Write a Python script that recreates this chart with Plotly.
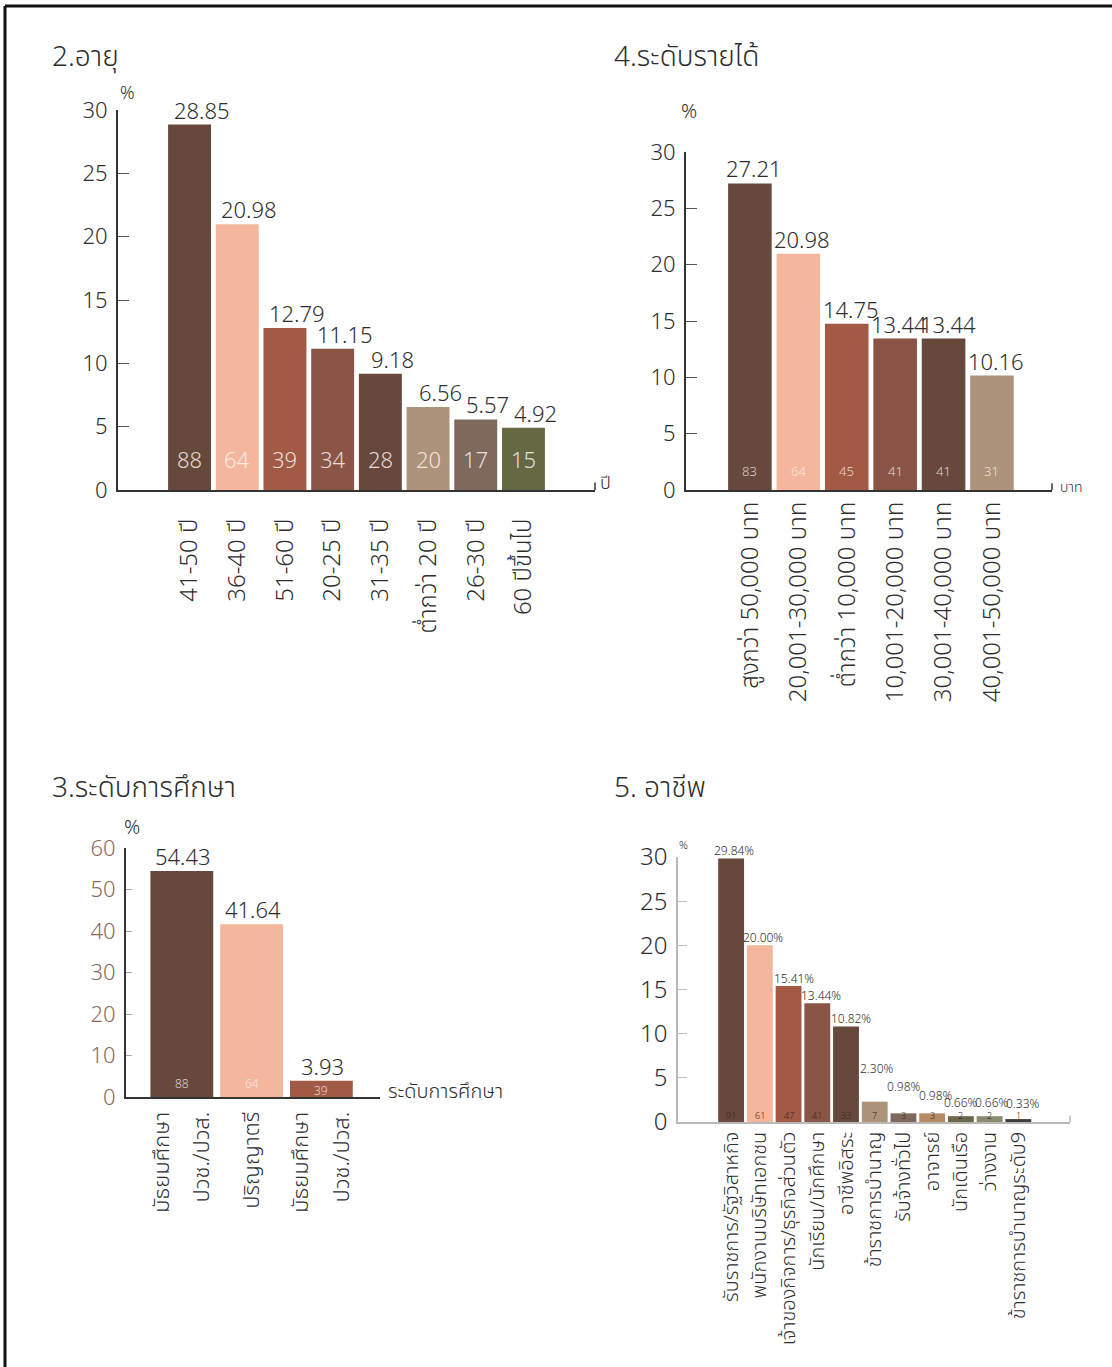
import plotly.graph_objects as go

# ---------------- data ----------------
age_cats = ["41-50 ปี", "36-40 ปี", "51-60 ปี", "20-25 ปี", "31-35 ปี", "ต่ำกว่า 20 ปี", "26-30 ปี", "60 ปีขึ้นไป"]
age_pct = [28.85, 20.98, 12.79, 11.15, 9.18, 6.56, 5.57, 4.92]
age_n = [88, 64, 39, 34, 28, 20, 17, 15]

income_cats = ["สูงกว่า 50,000 บาท", "20,001-30,000 บาท", "ต่ำกว่า 10,000 บาท",
               "10,001-20,000 บาท", "30,001-40,000 บาท", "40,001-50,000 บาท"]
income_pct = [27.21, 20.98, 14.75, 13.44, 13.44, 10.16]
income_n = [83, 64, 45, 41, 41, 31]

edu_cats = ["มัธยมศึกษา<br>ปวช./ปวส.", "ปริญญาตรี", "มัธยมศึกษา<br>ปวช./ปวส."]
edu_pct = [54.43, 41.64, 3.93]
edu_n = [88, 64, 39]

occ_cats = ["รับราชการ/รัฐวิสาหกิจ", "พนักงานบริษัทเอกชน", "เจ้าของกิจการ/ธุรกิจส่วนตัว",
            "นักเรียน/นักศึกษา", "อาชีพอิสระ", "ข้าราชการบำนาญ", "รับจ้างทั่วไป",
            "อาจารย์", "นักเดินเรือ", "ว่างงาน", "ข้าราชการบำนาญระดับ9"]
occ_pct = [29.84, 20.00, 15.41, 13.44, 10.82, 2.30, 0.98, 0.98, 0.66, 0.66, 0.33]
occ_n = [91, 61, 47, 41, 33, 7, 3, 3, 2, 2, 1]

# ---------------- style ----------------
DARK = "#66483c"
SALMON = "#f4b69d"
RUST = "#a35a44"
REDBR = "#8a5446"
TAN = "#ad9379"
GREYBR = "#7f685c"
OLIVE = "#666843"
age_colors = [DARK, SALMON, RUST, REDBR, DARK, TAN, GREYBR, OLIVE]
income_colors = [DARK, SALMON, RUST, REDBR, DARK, TAN]
edu_colors = [DARK, SALMON, RUST]
occ_colors = [DARK, SALMON, RUST, REDBR, DARK, TAN, GREYBR, "#b68b64", "#6a6a49", "#8c8b71", "#3d3d3d"]
occ_label_lift = [-4, -4, -4, -4, -4, 22, 15, 6, 2, 2, 4]
occ_label_dx = [3, 3, 5, 4, 5, 2, 0, 3, 0, 2, 4]
edu_count_shift = [2, 2, -5]
edu_line_spread = 0.29      # spacing (axis units) of the two-line education labels

FONT = "'Noto Sans Thai', 'Noto Sans Thai UI', Lato, 'Noto Sans', 'DejaVu Sans', sans-serif"
TXT = "#2e2e2e"
LIGHT = 300

W, H = 1112, 1367


def px_x(v):
    return v / W


def px_y(v):
    return 1 - v / H


fig = go.Figure()

panels = [
    dict(cats=age_cats, pct=age_pct, n=age_n, colors=age_colors, ax="",
         xd=(118, 595), yd=(490, 110), yr=[0, 30], dt=5, xr=[-1.5, 8.5]),
    dict(cats=income_cats, pct=income_pct, n=income_n, colors=income_colors, ax="2",
         xd=(686, 1052), yd=(490, 152), yr=[0, 30], dt=5, xr=[-1.32, 6.24]),
    dict(cats=edu_cats, pct=edu_pct, n=edu_n, colors=edu_colors, ax="3",
         xd=(126, 380), yd=(1097, 848), yr=[0, 60], dt=10, xr=[-0.8, 2.84]),
    dict(cats=occ_cats, pct=occ_pct, n=occ_n, colors=occ_colors, ax="4",
         xd=(678, 1070), yd=(1122, 857), yr=[0, 30], dt=5, xr=[-1.85, 11.8]),
]

annotations = []
shapes = []

for i, p in enumerate(panels):
    xs = list(range(len(p["cats"])))
    fig.add_trace(go.Bar(
        x=xs, y=p["pct"], marker=dict(color=p["colors"], line=dict(width=0)),
        xaxis="x" + p["ax"], yaxis="y" + p["ax"], showlegend=False,
        hoverinfo="skip"))

    tvals, ttext = [], []
    for j, c in enumerate(p["cats"]):
        parts = c.split("<br>")
        if len(parts) == 1:
            tvals.append(j)
            ttext.append(c)
        else:
            tvals += [j - edu_line_spread, j + edu_line_spread]
            ttext += parts

    light = i == 3
    axcol = "#b8b8b8" if light else "#333333"
    tickfont_y = dict(family=FONT, size=22 if i != 3 else 24, weight=LIGHT,
                      color="#8b6a5d" if i == 2 else TXT)
    xsize = [24, 24, 22, 20][i]
    standoff = [17, 0, 4, 0][i]
    fig.layout["xaxis" + p["ax"]] = dict(
        domain=[px_x(p["xd"][0]), px_x(p["xd"][1])],
        anchor="y" + p["ax"], range=p["xr"], automargin=False,
        tickmode="array", tickvals=tvals, ticktext=ttext, tickangle=-90,
        tickfont=dict(family=FONT, size=xsize, color=TXT, weight=LIGHT),
        showline=True, linecolor=axcol, linewidth=2 if not light else 1.5,
        showgrid=False, zeroline=False, ticks="", ticklabelstandoff=standoff,
        fixedrange=True)
    fig.layout["yaxis" + p["ax"]] = dict(
        domain=[px_y(p["yd"][0]), px_y(p["yd"][1])],
        anchor="x" + p["ax"], range=p["yr"], dtick=p["dt"], tick0=0,
        tickfont=tickfont_y, automargin=False,
        showline=True, linecolor=axcol, linewidth=2 if not light else 1.5,
        ticks="inside", ticklen=[11, 11, 6, 9][i],
        tickcolor=["#555555", "#555555", "#aaaaaa", "#bbbbbb"][i], tickwidth=1,
        showgrid=False, zeroline=False, ticklabelstandoff=4, fixedrange=True)

    xr = "x" + p["ax"]
    yr = "y" + p["ax"]
    vsize = [22, 22, 22, 12][i]
    vdx = [12, 4, 1, 0][i]
    for j, v in enumerate(p["pct"]):
        if i == 3:
            txt = f"{v:.2f}%"
            ysh = occ_label_lift[j]
            xsh = occ_label_dx[j]
        else:
            txt = f"{v:.2f}"
            ysh = -6
            xsh = vdx
        annotations.append(dict(
            x=j, y=v, xref=xr, yref=yr, text=txt, showarrow=False,
            yanchor="bottom", xanchor="center", yshift=ysh, xshift=xsh,
            font=dict(family=FONT, size=vsize, color=TXT, weight=LIGHT)))
    csize = [22, 13, 12, 9][i]
    ccol = ["rgba(255,245,240,0.85)", "rgba(255,245,240,0.8)",
            "rgba(255,245,240,0.8)", "#3a2a22"][i]
    for j, n in enumerate(p["n"]):
        cshift = [10, 6, edu_count_shift[j] if i == 2 else 0, -3][i]
        annotations.append(dict(
            x=j, y=0, xref=xr, yref=yr, text=str(n), showarrow=False,
            yanchor="bottom", xanchor="center", yshift=cshift,
            font=dict(family=FONT, size=csize, color=ccol, weight=LIGHT)))
    if i != 2:
        shapes.append(dict(type="line", xref=xr + " domain", yref=yr + " domain",
                           x0=1, x1=1, y0=0, y1=0.02 if i != 3 else 0.025,
                           line=dict(color=axcol, width=1.5)))

titles = [("2.อายุ", 50, 57), ("4.ระดับรายได้", 612, 57),
          ("3.ระดับการศึกษา", 50, 788), ("5. อาชีพ", 612, 788)]
for t, x, y in titles:
    annotations.append(dict(x=px_x(x), y=px_y(y), xref="paper", yref="paper",
                            text=t, showarrow=False, xanchor="left", yanchor="middle",
                            font=dict(family=FONT, size=28, color=TXT, weight=LIGHT)))

extra = [("%", 127, 93, 18, "center"), ("%", 689, 112, 20, "center"),
         ("%", 132, 828, 20, "center"), ("%", 683, 846, 11, "center"),
         ("ปี", 598, 484, 18, "left"), ("บาท", 1058, 487, 14, "left"),
         ("ระดับการศึกษา", 386, 1092, 20, "left")]
for t, x, y, s, xa in extra:
    annotations.append(dict(x=px_x(x), y=px_y(y), xref="paper", yref="paper",
                            text=t, showarrow=False, xanchor=xa, yanchor="middle",
                            font=dict(family=FONT, size=s, color=TXT, weight=LIGHT)))

shapes.append(dict(type="line", xref="paper", yref="paper",
                   x0=px_x(5), x1=1, y0=px_y(6), y1=px_y(6),
                   line=dict(color="#111111", width=3)))
shapes.append(dict(type="line", xref="paper", yref="paper",
                   x0=px_x(5), x1=px_x(5), y0=px_y(6), y1=0,
                   line=dict(color="#111111", width=3)))

fig.update_layout(
    width=W, height=H, margin=dict(l=0, r=0, t=0, b=0, autoexpand=False),
    paper_bgcolor="white", plot_bgcolor="white",
    bargap=0.1, annotations=annotations, shapes=shapes,
    font=dict(family=FONT, color=TXT),
)

fig.write_html("out.html")
